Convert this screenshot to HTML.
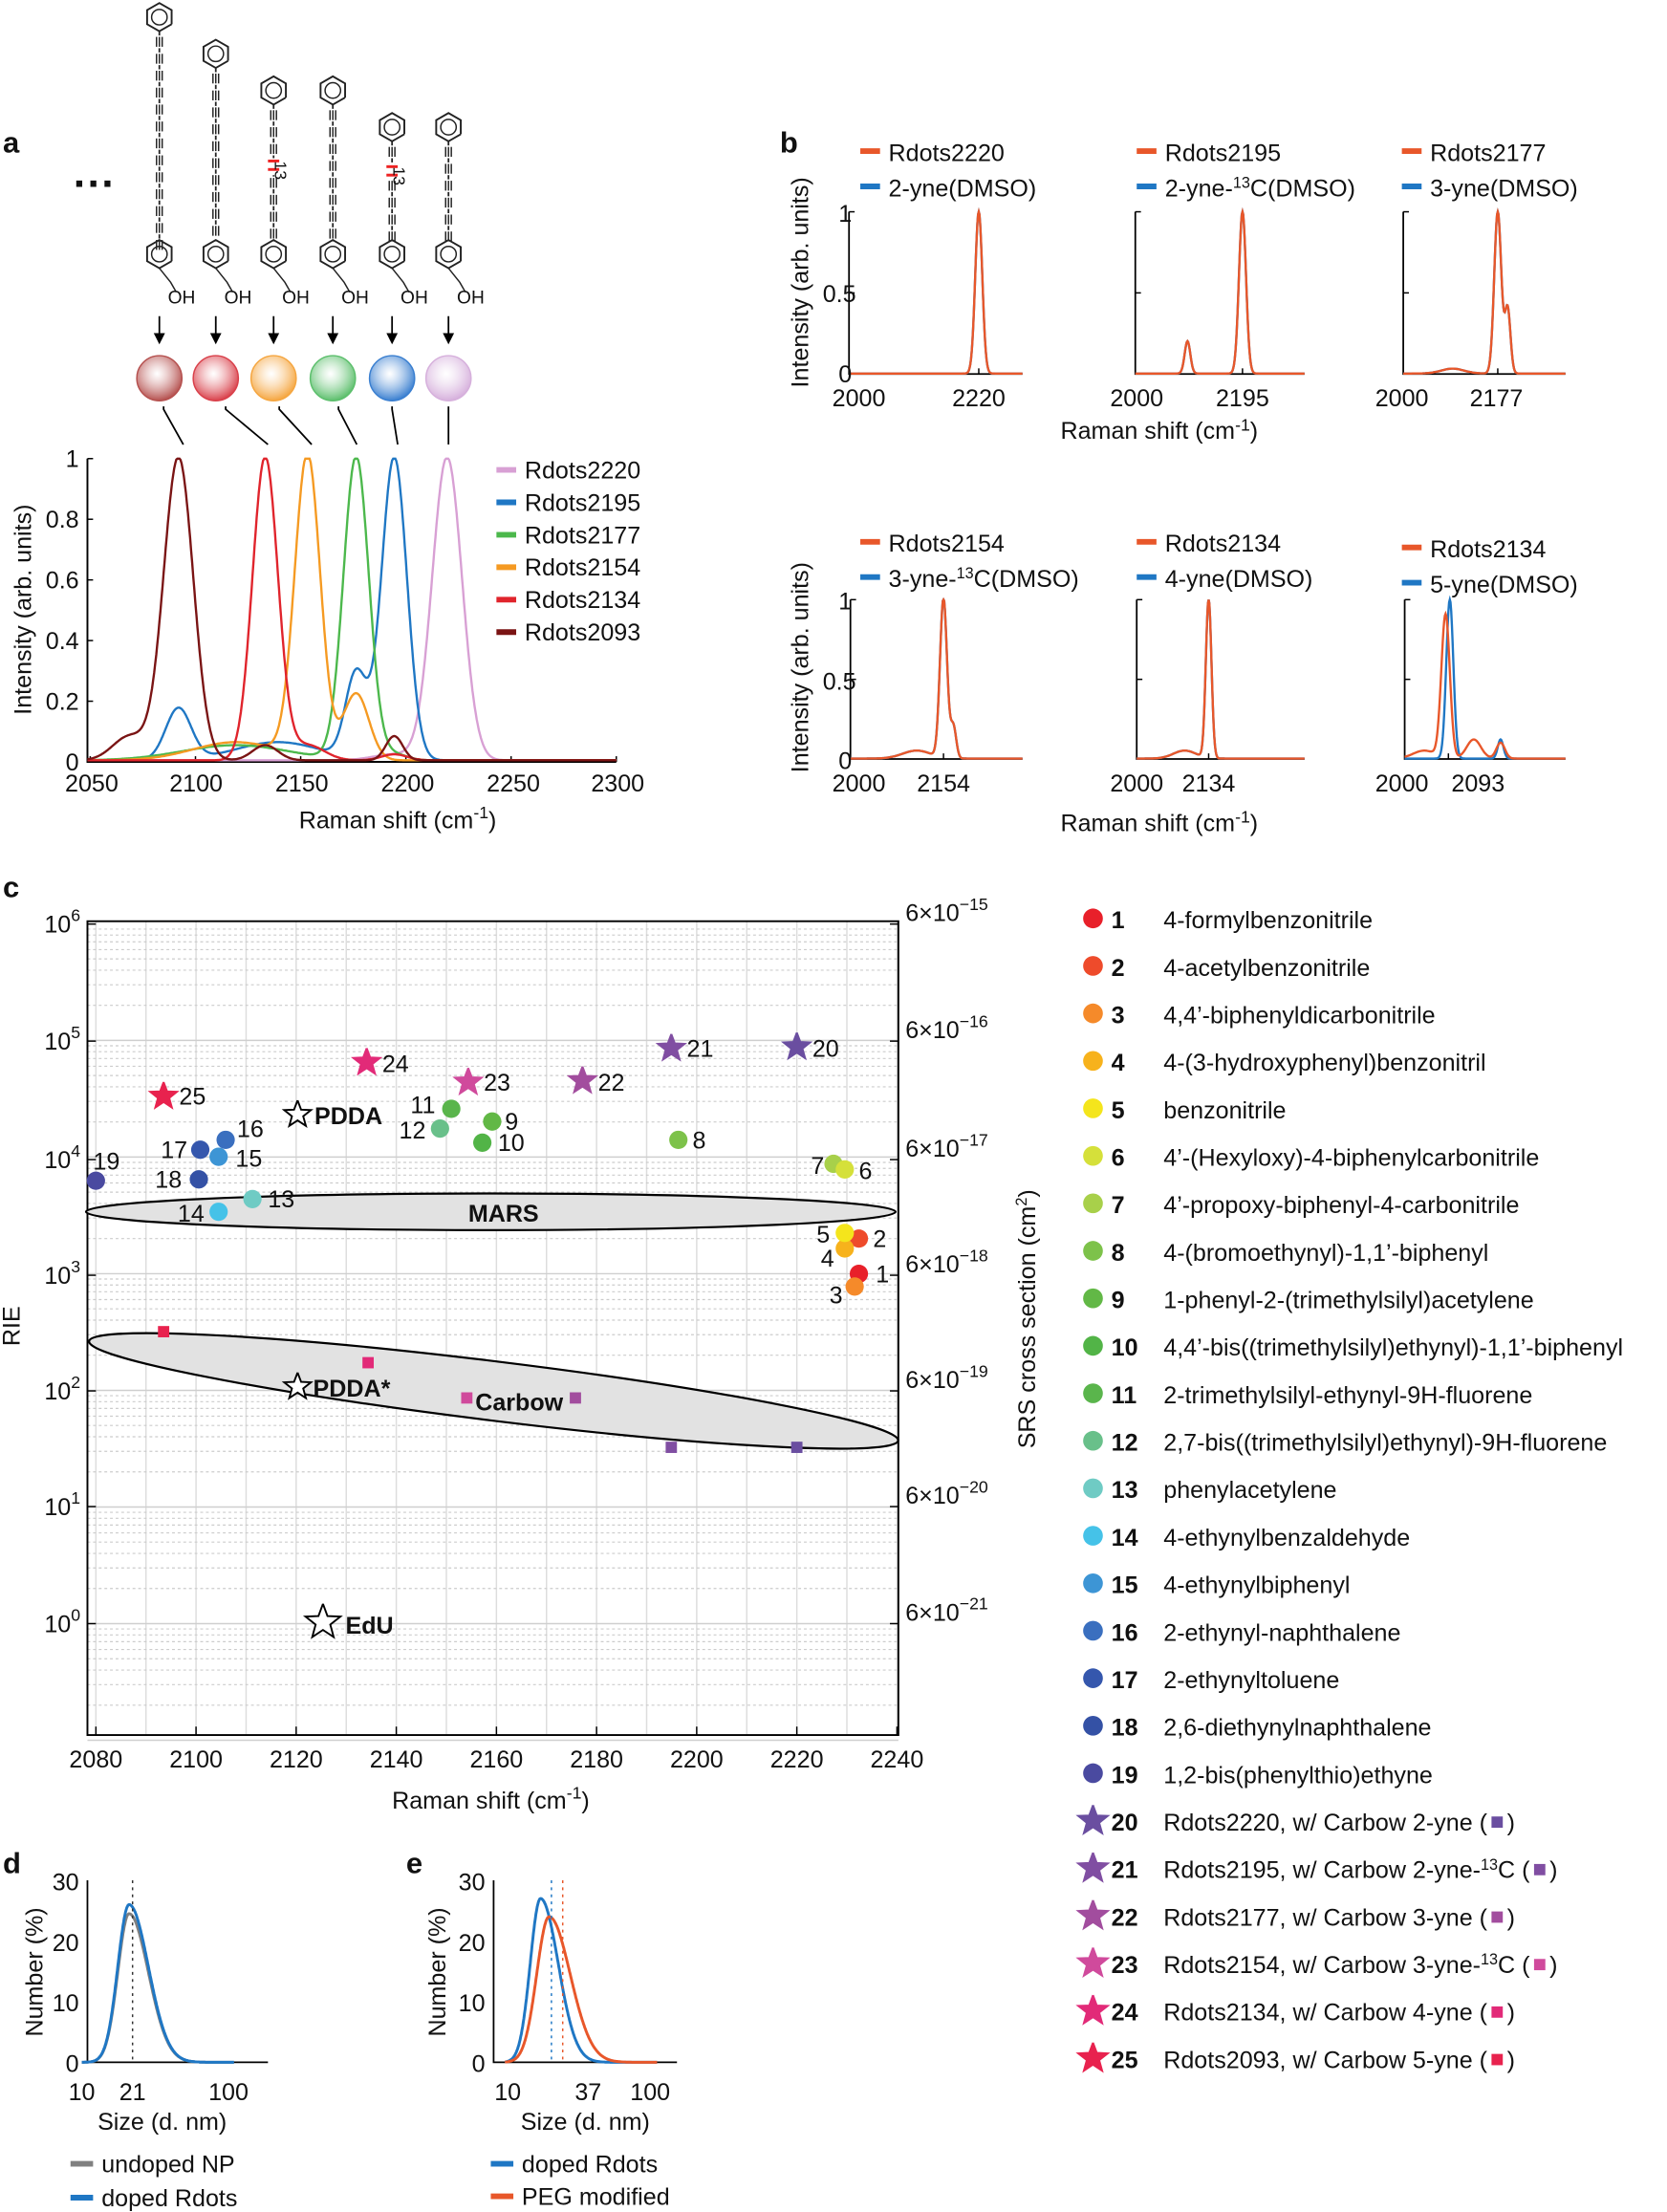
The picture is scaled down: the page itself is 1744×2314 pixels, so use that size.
<!DOCTYPE html>
<html><head><meta charset="utf-8">
<style>
html,body{margin:0;padding:0;background:#fff;}
svg{display:block;}
text{font-family:"Liberation Sans",Arial,sans-serif;fill:#111;}
.t{font-size:17px;}
.b{font-weight:bold;font-size:21px;}
.sm{font-size:16px;}
</style></head><body>
<svg id="s" width="1744" height="2314" viewBox="0 0 1182 1568" xmlns="http://www.w3.org/2000/svg">
<rect width="1182" height="1568" fill="#fff"/>
<g id="g"></g>
<text class="b" x="2" y="108">a</text>
<text class="b" x="553" y="108">b</text>
<text class="b" x="2" y="636">c</text>
<text class="b" x="2" y="1328">d</text>
<text class="b" x="288" y="1328">e</text>
<text x="52" y="140" style="font-size:30px;font-weight:bold">···</text>

<g class="t" text-anchor="end">
<text x="56" y="331">1</text><text x="56" y="374">0.8</text><text x="56" y="417">0.6</text>
<text x="56" y="460">0.4</text><text x="56" y="503">0.2</text><text x="56" y="546">0</text>
</g>
<g class="t" text-anchor="middle">
<text x="65" y="561">2050</text><text x="139" y="561">2100</text><text x="214" y="561">2150</text>
<text x="289" y="561">2200</text><text x="364" y="561">2250</text><text x="438" y="561">2300</text>
<text x="282" y="587">Raman shift (cm<tspan dy="-7" font-size="12">-1</tspan><tspan dy="7">)</tspan></text>
<text transform="translate(22,432) rotate(-90)">Intensity (arb. units)</text>
</g>
<g class="t">
<text x="372" y="339">Rdots2220</text><text x="372" y="362">Rdots2195</text><text x="372" y="385">Rdots2177</text>
<text x="372" y="408">Rdots2154</text><text x="372" y="431">Rdots2134</text><text x="372" y="454">Rdots2093</text>
</g>

<g class="t">
<text x="630" y="114">Rdots2220</text><text x="630" y="139">2-yne(DMSO)</text>
<text x="826" y="114">Rdots2195</text><text x="826" y="139">2-yne-<tspan dy="-6" font-size="11">13</tspan><tspan dy="6">C(DMSO)</tspan></text>
<text x="1014" y="114">Rdots2177</text><text x="1014" y="139">3-yne(DMSO)</text>
<text x="630" y="391">Rdots2154</text><text x="630" y="416">3-yne-<tspan dy="-6" font-size="11">13</tspan><tspan dy="6">C(DMSO)</tspan></text>
<text x="826" y="391">Rdots2134</text><text x="826" y="416">4-yne(DMSO)</text>
<text x="1014" y="395">Rdots2134</text><text x="1014" y="420">5-yne(DMSO)</text>
</g>
<g class="t" text-anchor="middle">
<text x="609" y="288">2000</text><text x="694" y="288">2220</text>
<text x="806" y="288">2000</text><text x="881" y="288">2195</text>
<text x="994" y="288">2000</text><text x="1061" y="288">2177</text>
<text x="609" y="561">2000</text><text x="669" y="561">2154</text>
<text x="806" y="561">2000</text><text x="857" y="561">2134</text>
<text x="994" y="561">2000</text><text x="1048" y="561">2093</text>
<text x="822" y="311">Raman shift (cm<tspan dy="-6" font-size="12">-1</tspan><tspan dy="6">)</tspan></text>
<text x="822" y="589">Raman shift (cm<tspan dy="-6" font-size="12">-1</tspan><tspan dy="6">)</tspan></text>
<text transform="translate(573,200) rotate(-90)">Intensity (arb. units)</text>
<text transform="translate(573,473) rotate(-90)">Intensity (arb. units)</text>
</g>
<g class="t" text-anchor="end">
<text x="604" y="157">1</text><text x="607" y="214">0.5</text><text x="604" y="271">0</text>
<text x="604" y="432">1</text><text x="607" y="489">0.5</text><text x="604" y="545">0</text>
</g>

<g class="t" text-anchor="middle">
<text x="68" y="1253">2080</text><text x="139" y="1253">2100</text><text x="210" y="1253">2120</text>
<text x="281" y="1253">2140</text><text x="352" y="1253">2160</text><text x="423" y="1253">2180</text>
<text x="494" y="1253">2200</text><text x="565" y="1253">2220</text><text x="636" y="1253">2240</text>
<text x="348" y="1282">Raman shift (cm<tspan dy="-7" font-size="12">-1</tspan><tspan dy="7">)</tspan></text>
<text transform="translate(14,940) rotate(-90)">RIE</text>
<text transform="translate(734,935) rotate(-90)">SRS cross section (cm<tspan dy="-6" font-size="11">2</tspan><tspan dy="6">)</tspan></text>
</g>
<g class="t" text-anchor="end" id="ylog"></g>
<g class="t" id="yr"></g>

<g class="t" text-anchor="end">
<text x="56" y="1340">30</text><text x="56" y="1383">20</text><text x="56" y="1426">10</text><text x="56" y="1469">0</text>
<text x="344" y="1340">30</text><text x="344" y="1383">20</text><text x="344" y="1426">10</text><text x="344" y="1469">0</text>
</g>
<g class="t" text-anchor="middle">
<text x="58" y="1489">10</text><text x="94" y="1489">21</text><text x="162" y="1489">100</text>
<text x="360" y="1489">10</text><text x="417" y="1489">37</text><text x="461" y="1489">100</text>
<text x="115" y="1510">Size (d. nm)</text><text x="415" y="1510">Size (d. nm)</text>
<text transform="translate(30,1398) rotate(-90)">Number (%)</text>
<text transform="translate(316,1398) rotate(-90)">Number (%)</text>
</g>
<g class="t">
<text x="72" y="1540">undoped NP</text><text x="72" y="1564">doped Rdots</text>
<text x="370" y="1540">doped Rdots</text><text x="370" y="1563">PEG modified</text>
</g>
<g stroke-width="4">
<line x1="50" y1="1534" x2="66" y2="1534" stroke="#808080"/><line x1="50" y1="1558" x2="66" y2="1558" stroke="#1f77c4"/>
<line x1="348" y1="1534" x2="364" y2="1534" stroke="#1f77c4"/><line x1="348" y1="1557" x2="364" y2="1557" stroke="#e8572a"/>
</g>
<g id="leg" class="t"></g>
</svg>
<script>
var NS="http://www.w3.org/2000/svg",G=document.getElementById('g');
function el(t,a,p){var e=document.createElementNS(NS,t);for(var k in a)e.setAttribute(k,a[k]);(p||G).appendChild(e);return e;}
function txt(x,y,s,a,p){var e=el('text',Object.assign({x:x,y:y},a||{}),p);e.textContent=s;return e;}
function path(pts,a){var d='M'+pts.map(function(p){return p[0].toFixed(1)+','+p[1].toFixed(1)}).join('L');return el('path',Object.assign({d:d,fill:'none'},a));}
function gs(x,m,s){return Math.exp(-Math.pow((x-m)/s,2)/2);}
var BL='#1f77c4',OR='#e8572a';
el('path',{d:'M62,325V540H437',stroke:'#000','stroke-width':1.3,fill:'none'});
[325,368,411,454,497].forEach(function(y){el('line',{x1:62,x2:66,y1:y,y2:y,stroke:'#000'});});
for(var i=0;i<6;i++){var x=64+i*74.6;el('line',{x1:x,x2:x,y1:540,y2:536,stroke:'#000'});}
function ax(v){return 62+(v-2050)*1.5;}
var spec=[
 ['#d8a0d4',[[2220,1,7],[2195,0.02,10]]],
 [BL,[[2195,1,6],[2093,0.17,6],[2177,0.28,5],[2140,0.06,20]]],
 ['#4cb84c',[[2177,1,6],[2195,0.02,6],[2120,0.05,25]]],
 ['#f59a22',[[2154,1,6],[2177,0.22,6],[2120,0.06,20]]],
 ['#e0242c',[[2134,1,6],[2154,0.05,8],[2195,0.02,6]]],
 ['#7a1414',[[2093,1,7],[2070,0.08,8],[2134,0.05,6],[2195,0.08,4]]]];
spec.forEach(function(s){var p=[];for(var v=2050;v<=2300;v+=0.5){var y=0.005;s[1].forEach(function(g){y+=g[1]*gs(v,g[0],g[2]);});p.push([ax(v),540-Math.min(y,1)*215]);}path(p,{stroke:s[0],'stroke-width':1.6});});
['#d8a0d4',BL,'#4cb84c','#f59a22','#e0242c','#7a1414'].forEach(function(c,i){el('line',{x1:352,x2:366,y1:333+i*23,y2:333+i*23,stroke:c,'stroke-width':4});});
var mx=[113,153,194,236,278,318],tops=[12,38,64,64,90,90],sc=['#b5504e','#d9404a','#f5a640','#5cbf6c','#3a7fd0','#d6b0dc'];
function hex(cx,cy,r){var p=[];for(var k=0;k<6;k++){var a=Math.PI/6+k*Math.PI/3;p.push([cx+r*Math.cos(a),cy+r*Math.sin(a)]);}p.push(p[0]);path(p,{stroke:'#222','stroke-width':1.3});el('circle',{cx:cx,cy:cy,r:r*0.55,fill:'none',stroke:'#222','stroke-width':1});}
mx.forEach(function(x,i){var t=tops[i];hex(x,t,10);
 for(var y=t+10;y<168;y+=12){el('line',{x1:x,x2:x,y1:y,y2:y+3,stroke:'#222','stroke-width':1.2});el('line',{x1:x-2,x2:x-2,y1:y+4,y2:y+11,stroke:'#222','stroke-width':1});el('line',{x1:x,x2:x,y1:y+4,y2:y+11,stroke:'#222','stroke-width':1});el('line',{x1:x+2,x2:x+2,y1:y+4,y2:y+11,stroke:'#222','stroke-width':1});}
 hex(x,180,10);el('path',{d:'M'+x+',190L'+(x+8)+',200L'+(x+12)+',207',stroke:'#222',fill:'none'});txt(x+6,215,'OH',{'font-size':13});
 el('line',{x1:x,x2:x,y1:224,y2:240,stroke:'#000','stroke-width':1.2});el('path',{d:'M'+(x-4)+',236L'+x+',244L'+(x+4)+',236Z',fill:'#000'});
 var gr=el('radialGradient',{id:'rg'+i,cx:'45%',cy:'40%',r:'60%'});el('stop',{offset:'0','stop-color':'#fff','stop-opacity':0.6},gr);el('stop',{offset:'1','stop-color':sc[i]},gr);
 el('circle',{cx:x,cy:268,r:16,fill:'url(#rg'+i+')',stroke:sc[i]});
});
[[194,114],[278,118]].forEach(function(a){el('rect',{x:a[0]-5,y:a[1]-2,width:10,height:12,fill:'#fff'});el('line',{x1:a[0]-4,x2:a[0]+4,y1:a[1],y2:a[1],stroke:'#e22','stroke-width':2});el('line',{x1:a[0]-4,x2:a[0]+4,y1:a[1]+6,y2:a[1]+6,stroke:'#e22','stroke-width':2});txt(a[0]+6,a[1]+13,'13',{fill:'#e22','font-size':12,transform:'rotate(90 '+(a[0]+10)+' '+(a[1]+4)+')'});});
[[116,288,130,315],[160,288,190,315],[198,288,221,315],[240,288,253,315],[278,288,282,315],[318,288,318,315]].forEach(function(l){el('path',{d:'M'+l[0]+','+l[1]+'L'+l[0]+','+(l[1]+2)+'L'+l[2]+','+l[3],stroke:'#000',fill:'none','stroke-width':1.2});});
var bp=[[602,725,150,265,694,[[694,1,2.5,0,0]],[]],
 [805,925,150,265,881,[[881,1,2.5],[842,0.2,2]],[]],
 [995,1110,150,265,1062,[[1062,1,2.5],[1069,0.4,2],[1030,0.03,8]],[]],
 [603,725,425,538,669,[[669,1,2.5],[676,0.2,2],[650,0.05,10]],[]],
 [806,925,425,538,857,[[857,1,2],[840,0.05,8]],[]],
 [996,1110,425,538,1027,[[1025,0.9,3],[1045,0.12,5],[1064,0.1,3],[1010,0.05,8]],[[1028,1,2.5],[1064,0.12,2]]]];
bp.forEach(function(b){el('path',{d:'M'+b[0]+','+b[2]+'V'+b[3]+'H'+b[1],stroke:'#000',fill:'none','stroke-width':1.2});
 [b[2],(b[2]+b[3])/2].forEach(function(y){el('line',{x1:b[0],x2:b[0]+4,y1:y,y2:y,stroke:'#000'});});
 el('line',{x1:b[4],x2:b[4],y1:b[3],y2:b[3]-4,stroke:'#000'});
 [[BL,b[6].length?b[6]:b[5]],[OR,b[5]]].forEach(function(c){var p=[];for(var x=b[0];x<=b[1];x+=0.5){var y=0.003;c[1].forEach(function(g){y+=g[1]*gs(x,g[0],g[2]);});p.push([x,b[3]-Math.min(y,1)*(b[3]-b[2])]);}path(p,{stroke:c[0],'stroke-width':1.6});});
});
[[610,107],[806,107],[994,107],[610,384],[806,384],[994,388]].forEach(function(p){el('line',{x1:p[0],x2:p[0]+14,y1:p[1],y2:p[1],stroke:OR,'stroke-width':4});el('line',{x1:p[0],x2:p[0]+14,y1:p[1]+25,y2:p[1]+25,stroke:BL,'stroke-width':4});});
function cx(v){return 68+(v-2080)*3.55;}
var dec=[1151,1068,986,904,822,738,655],dp=82.7;
for(var v=2080;v<=2240;v+=10)el('line',{x1:cx(v),x2:cx(v),y1:653,y2:1230,stroke:'#ddd','stroke-width':1});
for(var d=-1;d<6;d++){for(var m=1;m<10;m++){var y=1151-(d+Math.log10(m))*dp;if(y<653)continue;el('line',{x1:62,x2:637,y1:y,y2:y,stroke:m==1?'#cfcfcf':'#ccc','stroke-width':m==1?1:0.8,'stroke-dasharray':m==1?'':'2,2'});}}
el('rect',{x:62,y:653,width:575,height:577,fill:'none',stroke:'#000','stroke-width':1.3});
var yl=document.getElementById('ylog'),yr=document.getElementById('yr');
dec.forEach(function(y,i){var t=txt(57,y+6,'10',{},yl);var s=document.createElementNS(NS,'tspan');s.setAttribute('dy','-8');s.setAttribute('font-size','12');s.textContent=String(i);t.appendChild(s);
 el('line',{x1:62,x2:68,y1:y,y2:y,stroke:'#000'});el('line',{x1:631,x2:637,y1:y,y2:y,stroke:'#000'});
 var r=txt(642,y-2,'6\u00d710',{},yr);var s2=document.createElementNS(NS,'tspan');s2.setAttribute('dy','-8');s2.setAttribute('font-size','12');s2.textContent='\u2212'+(21-i);r.appendChild(s2);});
for(var v=2080;v<=2240;v+=20){el('line',{x1:cx(v),x2:cx(v),y1:1230,y2:1224,stroke:'#000'});}
el('ellipse',{cx:348,cy:859,rx:287,ry:13,fill:'#e2e2e2',stroke:'#000','stroke-width':1.5});
txt(357,866,'MARS',{'font-weight':'bold','font-size':17,'text-anchor':'middle'});
el('ellipse',{cx:350,cy:986,rx:289,ry:21,fill:'#e2e2e2',stroke:'#000','stroke-width':1.5,transform:'rotate(7 350 986)'});
function star(x,y,r,fill,stroke){var p=[];for(var k=0;k<10;k++){var a=-Math.PI/2+k*Math.PI/5,rr=k%2?r*0.42:r;p.push([x+rr*Math.cos(a),y+rr*Math.sin(a)]);}p.push(p[0]);return path(p,{fill:fill,stroke:stroke||fill,'stroke-width':1.3});}
var col={1:'#e8202a',2:'#ee4b2b',3:'#f58a2a',4:'#f7b21c',5:'#f4e51c',6:'#d5e03a',7:'#a8d04a',8:'#7dc24a',9:'#62b846',10:'#52b447',11:'#5ab54c',12:'#69c08a',13:'#6fcbc4',14:'#45c2e8',15:'#3d95d5',16:'#3a6fbf',17:'#3557ad',18:'#3451a5',19:'#4a4aa0',20:'#6a4ea0',21:'#804ea2',22:'#a24d9e',23:'#d04a9c',24:'#e22a78',25:'#e8224e'};
[[1,609,903,621,909],[2,609,878,619,884],[3,606,912,588,924],[4,599,885,582,898],[5,599,874,579,881],[7,591,825,575,832],[6,599,829,609,836],[8,481,808,491,814],[9,349,795,358,801],[10,342,810,353,816],[11,320,786,291,789],[12,312,800,283,807],[13,179,850,190,856],[14,155,859,126,866],[15,155,820,167,827],[16,160,808,168,806],[17,142,815,114,821],[18,141,836,110,842],[19,68,837,66,829]].forEach(function(p){el('circle',{cx:p[1],cy:p[2],r:6.5,fill:col[p[0]]});txt(p[3],p[4],String(p[0]),{'font-size':17});});
[[20,565,742,576,749],[21,476,743,487,749],[22,413,766,424,773],[23,332,767,343,773],[24,260,753,271,760],[25,116,777,127,783]].forEach(function(p){star(p[1],p[2],10,col[p[0]]);txt(p[3],p[4],String(p[0]),{'font-size':17});});
star(211,790,10,'#fff','#000');txt(223,797,'PDDA',{'font-weight':'bold','font-size':17});
star(211,983,10,'#fff','#000');txt(222,990,'PDDA*',{'font-weight':'bold','font-size':17});
star(229,1150,13,'#fff','#000');txt(245,1158,'EdU',{'font-weight':'bold','font-size':17});
txt(337,1000,'Carbow',{'font-weight':'bold','font-size':17});
[[116,944,col[25]],[261,966,col[24]],[331,991,col[23]],[408,991,col[22]],[476,1026,col[21]],[565,1026,col[20]]].forEach(function(s){el('rect',{x:s[0]-4,y:s[1]-4,width:8,height:8,fill:s[2]});});
var names=['4-formylbenzonitrile','4-acetylbenzonitrile','4,4\u2019-biphenyldicarbonitrile','4-(3-hydroxyphenyl)benzonitril','benzonitrile','4\u2019-(Hexyloxy)-4-biphenylcarbonitrile','4\u2019-propoxy-biphenyl-4-carbonitrile','4-(bromoethynyl)-1,1\u2019-biphenyl','1-phenyl-2-(trimethylsilyl)acetylene','4,4\u2019-bis((trimethylsilyl)ethynyl)-1,1\u2019-biphenyl','2-trimethylsilyl-ethynyl-9H-fluorene','2,7-bis((trimethylsilyl)ethynyl)-9H-fluorene','phenylacetylene','4-ethynylbenzaldehyde','4-ethynylbiphenyl','2-ethynyl-naphthalene','2-ethynyltoluene','2,6-diethynylnaphthalene','1,2-bis(phenylthio)ethyne','Rdots2220, w/ Carbow 2-yne (','Rdots2195, w/ Carbow 2-yne-13C (','Rdots2177, w/ Carbow 3-yne (','Rdots2154, w/ Carbow 3-yne-13C (','Rdots2134, w/ Carbow 4-yne (','Rdots2093, w/ Carbow 5-yne ('];
var L=document.getElementById('leg');
names.forEach(function(n,i){var k=i+1,y=651+i*33.67;
 if(k<20)el('circle',{cx:775,cy:y,r:7,fill:col[k]});else star(775,y,11,col[k]);
 txt(788,y+7,String(k),{'font-weight':'bold'},L);
 var t;
 if(n.indexOf('13C')>=0){var parts=n.split('13C');t=txt(825,y+7,parts[0],{},L);var a=document.createElementNS(NS,'tspan');a.setAttribute('dy','-6');a.setAttribute('font-size','11');a.textContent='13';t.appendChild(a);var b=document.createElementNS(NS,'tspan');b.setAttribute('dy','6');b.textContent='C'+parts[1];t.appendChild(b);}
 else t=txt(825,y+7,n,{},L);
 if(k>=20){var w=t.getComputedTextLength();el('rect',{x:825+w+3,y:y-3,width:8,height:8,fill:col[k]});txt(825+w+14,y+7,')',{},L);}
});
[[62,190,58,162],[350,480,360,461]].forEach(function(p){el('path',{d:'M'+p[0]+',1333V1462H'+p[1],stroke:'#000',fill:'none','stroke-width':1.2});});
function dx(v,o){return o+104*Math.log10(v/10);}
function dist(o,mu,sd,pk,c){var p=[];for(var v=10;v<=110;v*=1.01){var s=v<mu?sd*0.7:sd*1.2;var y=pk*gs(Math.log10(v),Math.log10(mu),s);p.push([dx(v,o),1462-y*4.3]);}path(p,{stroke:c,'stroke-width':2});}
dist(58,21,0.11,24.5,'#808080');dist(58,21,0.11,26,BL);
el('line',{x1:94,x2:94,y1:1333,y2:1462,stroke:'#333','stroke-dasharray':'2,3'});
dist(358,17.5,0.1,27,BL);dist(358,20,0.12,24,OR);
el('line',{x1:391,x2:391,y1:1333,y2:1462,stroke:BL,'stroke-dasharray':'2,3'});
el('line',{x1:399,x2:399,y1:1333,y2:1462,stroke:OR,'stroke-dasharray':'2,3'});
</script>
</body></html>
